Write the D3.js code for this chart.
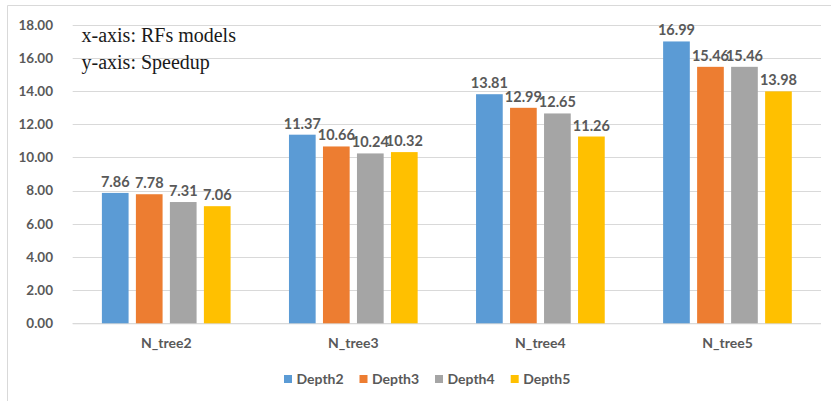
<!DOCTYPE html>
<html><head><meta charset="utf-8">
<script src="https://cdn.jsdelivr.net/npm/d3@7"></script>
<style>
html,body{margin:0;padding:0;background:#fff;}
svg{display:block;}
</style></head>
<body>
<script>
const categories = ["N_tree2","N_tree3","N_tree4","N_tree5"];
const seriesNames = ["Depth2","Depth3","Depth4","Depth5"];
const depth2 = [7.86, 11.37, 13.81, 16.99];
const depth3 = [7.78, 10.66, 12.99, 15.46];
const depth4 = [7.31, 10.24, 12.65, 15.46];
const depth5 = [7.06, 10.32, 11.26, 13.98];
const colors = ["#5B9BD5","#ED7D31","#A5A5A5","#FFC000"];
const yTicks = [0,2,4,6,8,10,12,14,16,18];
const annotations = ["x-axis: RFs models","y-axis: Speedup"];

const seriesValues = [depth2, depth3, depth4, depth5];
const W = 831, H = 401;
const plot = {left: 72.7, right: 821, top: 24.7, bottom: 323.3};
const svg = d3.select("body").append("svg").attr("width", W).attr("height", H);

// chart border (left & top visible)
svg.append("line").attr("x1",7.5).attr("x2",7.5).attr("y1",5.5).attr("y2",H).attr("stroke","#D9D9D9");
svg.append("line").attr("x1",7.5).attr("x2",W).attr("y1",5.5).attr("y2",5.5).attr("stroke","#D9D9D9");

const y = d3.scaleLinear().domain([0,18]).range([plot.bottom, plot.top]);
const x0 = d3.scaleBand().domain(categories).range([plot.left, plot.right]);
const groupW = 136;
const x1 = d3.scaleBand().domain(seriesNames).range([0, groupW]).paddingInner(0.215).paddingOuter(0.1075);

// gridlines
svg.append("g").selectAll("line").data(yTicks).join("line")
  .attr("x1", plot.left).attr("x2", plot.right)
  .attr("y1", d => Math.round(y(d))+0.5).attr("y2", d => Math.round(y(d))+0.5)
  .attr("stroke", "#D9D9D9").attr("stroke-width", 1);

const font = "Lato, 'Open Sans', sans-serif";
const txtColor = "#595959";

// y axis labels
const yAxis = d3.axisLeft(y).tickValues(yTicks).tickFormat(d3.format(".2f")).tickSize(0).tickPadding(0);
const ya = svg.append("g").attr("transform", `translate(53,0)`).call(yAxis);
ya.select(".domain").remove();
ya.selectAll("text").attr("font-family", font).attr("font-weight", 700).attr("font-size", 13.5).attr("fill", txtColor);

// x axis labels
const xAxis = d3.axisBottom(x0).tickSize(0).tickPadding(0);
const xa = svg.append("g").attr("transform", `translate(0,${plot.bottom})`).call(xAxis);
xa.select(".domain").attr("stroke","#D9D9D9").attr("d", `M${plot.left},0.5H${plot.right}`);
xa.selectAll("text").attr("font-family", font).attr("font-weight", 700).attr("font-size", 14).attr("fill", txtColor).attr("dy", null).attr("y", 25);

// bars
const groups = svg.append("g").selectAll("g").data(categories).join("g")
  .attr("transform", c => `translate(${x0(c) + x0.bandwidth()/2 - groupW/2},0)`);
groups.each(function(c, ci) {
  const g = d3.select(this);
  const data = seriesNames.map((s, si) => ({s, si, v: seriesValues[si][ci]}));
  g.selectAll("rect").data(data).join("rect")
    .attr("x", d => x1(d.s)).attr("width", x1.bandwidth())
    .attr("y", d => y(d.v)).attr("height", d => y(0) - y(d.v))
    .attr("fill", d => colors[d.si]);
  g.selectAll("text").data(data).join("text")
    .attr("x", d => x1(d.s) + x1.bandwidth()/2)
    .attr("y", d => y(d.v) - 6)
    .attr("text-anchor", "middle")
    .attr("font-family", font).attr("font-weight", 700).attr("font-size", 14.5)
    .attr("fill", txtColor)
    .text(d => d.v.toFixed(2));
});

// legend
const legendX = [284, 359.5, 435, 510.7];
const lg = svg.append("g").selectAll("g").data(seriesNames).join("g")
  .attr("transform", (d,i) => `translate(${legendX[i]},375)`);
lg.append("rect").attr("width", 8).attr("height", 8).attr("fill", (d,i) => colors[i]);
lg.append("text").attr("x", 12.5).attr("y", 8.5)
  .attr("font-family", font).attr("font-weight", 700).attr("font-size", 14).attr("fill", txtColor)
  .text(d => d);

// annotations
svg.append("g").selectAll("text").data(annotations).join("text")
  .attr("x", 81.5).attr("y", (d,i) => 42 + i*26.5)
  .attr("font-family", "'Liberation Serif', 'Times New Roman', serif").attr("font-size", 20).attr("fill", "#1a1a1a")
  .text(d => d);
</script>
</body></html>
